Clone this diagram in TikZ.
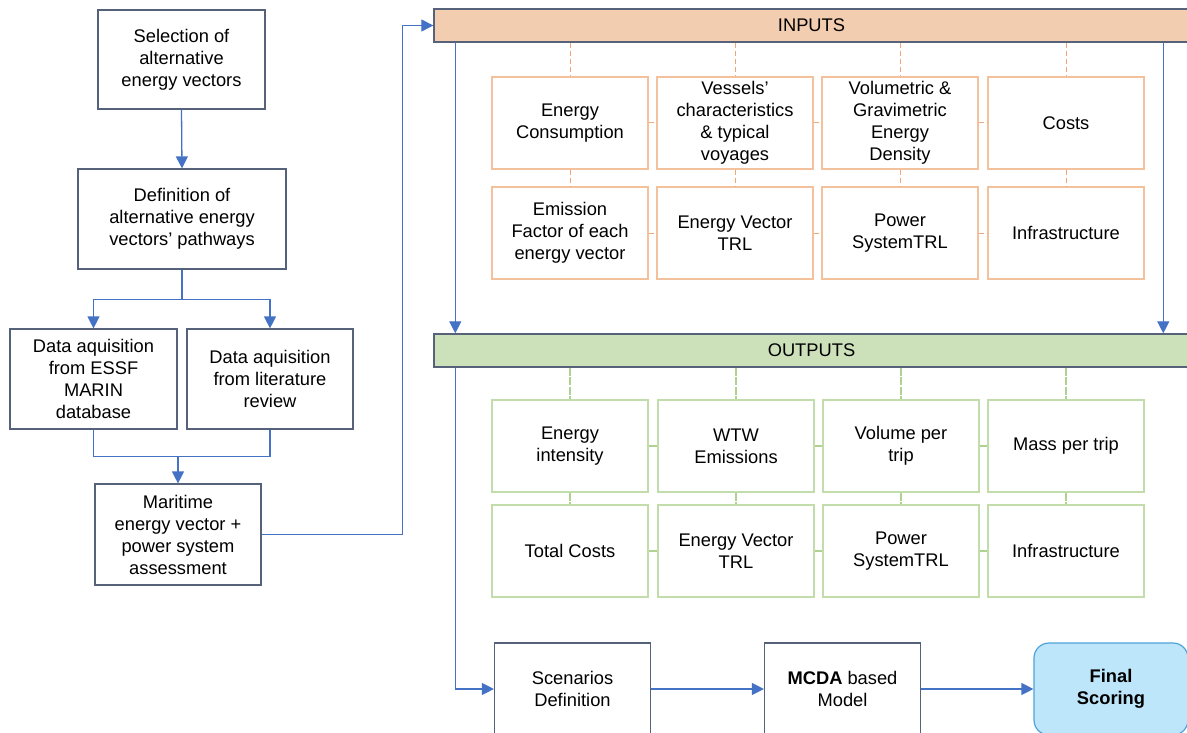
\documentclass[tikz,border=0pt]{standalone}
\usepackage{fontspec}
\setmainfont{Liberation Sans}
\usetikzlibrary{arrows.meta,calc}
\definecolor{flow}{HTML}{4472C4}
\definecolor{slate}{HTML}{56617A}
\definecolor{peach}{HTML}{F2CDAF}
\definecolor{mint}{HTML}{CCE0BA}
\definecolor{obord}{HTML}{F3C19C}
\definecolor{odash}{HTML}{F0A878}
\definecolor{gbord}{HTML}{C2DCAB}
\definecolor{gline}{HTML}{AFD293}
\definecolor{skyfill}{HTML}{BEE6FA}
\definecolor{skybord}{HTML}{4DA3DB}
\begin{document}
\begin{tikzpicture}[x=1pt,y=-1pt,
  txt/.style={font=\fontsize{18.3}{22}\selectfont, align=center, inner sep=0pt},
  lbox/.style={txt, draw=slate, line width=1.2pt, fill=white},
  hdr/.style={txt, draw=slate, line width=1.4pt, minimum width=755, minimum height=33},
  ibox/.style={txt, draw=obord, line width=1.2pt, minimum width=156, minimum height=92},
  obox/.style={txt, draw=gbord, line width=1.2pt, minimum width=156, minimum height=92},
  idash/.style={draw=odash, line width=1pt, dash pattern=on 5pt off 3pt},
  olink/.style={draw=gline, line width=1.1pt, dash pattern=on 8pt off 1.5pt},
  conn/.style={draw=flow, line width=1.3pt},
  arr/.style={conn, -{Triangle[length=12pt,width=12pt]}}
]
\useasboundingbox (0,0) rectangle (1187,733);
\clip (0,0) rectangle (1187,733);
\fill[white] (0,0) rectangle (1187,733);

% left column
\node[lbox, minimum width=167, minimum height=99] (b1) at (181.5,59.5) {Selection of\\alternative\\energy vectors};
\node[lbox, minimum width=208, minimum height=100] (b2) at (182,219) {Definition of\\alternative energy\\vectors’ pathways};
\node[lbox, minimum width=167, minimum height=100] (b3) at (93.5,379) {Data aquisition\\from ESSF\\MARIN\\database};
\node[lbox, minimum width=166, minimum height=100] (b4) at (270,379) {Data aquisition\\from literature\\review};
\node[lbox, minimum width=166, minimum height=101] (b5) at (178,534.5) {Maritime\\energy vector +\\power system\\assessment};

\draw[arr] (b1.south) -- (b2.north);
\draw[arr] (b2.south) -- ++(0,30) -| (b3.north);
\draw[arr] (b2.south) -- ++(0,30) -| (b4.north);
\coordinate (m) at ($(b3.south)+(0,27)$);
\draw[conn] (b3.south) -- (m) -| (b4.south);
\draw[arr] (b5.north |- m) -- (b5.north);

% headers
\node[hdr, fill=peach] (inputs) at (811.5,25.5) {INPUTS};
\node[hdr, fill=mint] (outputs) at (811.5,350.5) {OUTPUTS};

\draw[arr] (b5.east) -| ($(inputs.west)+(-31,0)$) -- (inputs.west);

% input boxes
\node[ibox] (i1) at (570,123) {Energy\\Consumption};
\node[ibox] (i2) at (735,123) {Vessels’\\characteristics\\\& typical\\voyages};
\node[ibox] (i3) at (900,123) {Volumetric \&\\Gravimetric\\Energy\\Density};
\node[ibox] (i4) at (1066,123) {Costs};
\node[ibox] (i5) at (570,233) {Emission\\Factor of each\\energy vector};
\node[ibox] (i6) at (735,233) {Energy Vector\\TRL};
\node[ibox] (i7) at (900,233) {Power\\SystemTRL};
\node[ibox] (i8) at (1066,233) {Infrastructure};

\foreach \t/\b in {i1/i5,i2/i6,i3/i7,i4/i8}{
  \draw[idash] (inputs.south -| \t.north) -- (\t.north);
  \draw[idash] (\t.south) -- (\b.north);
}
\foreach \l/\r in {i1/i2,i2/i3,i3/i4,i5/i6,i6/i7,i7/i8}{
  \draw[idash] (\l.east) -- (\r.west);
}

% output boxes
\node[obox] (o1) at (570,446) {Energy\\intensity};
\node[obox] (o2) at (736,446) {WTW\\Emissions};
\node[obox] (o3) at (901,446) {Volume per\\trip};
\node[obox] (o4) at (1066,446) {Mass per trip};
\node[obox] (o5) at (570,551) {Total Costs};
\node[obox] (o6) at (736,551) {Energy Vector\\TRL};
\node[obox] (o7) at (901,551) {Power\\SystemTRL};
\node[obox] (o8) at (1066,551) {Infrastructure};

\foreach \t/\b in {o1/o5,o2/o6,o3/o7,o4/o8}{
  \draw[olink] (outputs.south -| \t.north) -- (\t.north);
  \draw[olink] (\t.south) -- (\b.north);
}
\foreach \l/\r in {o1/o2,o2/o3,o3/o4,o5/o6,o6/o7,o7/o8}{
  \draw[olink] (\l.east) -- (\r.west);
}

% blue flows between headers
\draw[arr] ($(inputs.south west)+(22,0)$) -- ($(outputs.north west)+(22,0)$);
\draw[arr] ($(inputs.south west)+(730,0)$) -- ($(outputs.north west)+(730,0)$);

% bottom row
\node[lbox, minimum width=156, minimum height=92] (s1) at (572.5,689) {Scenarios\\Definition};
\node[lbox, minimum width=156, minimum height=92] (s2) at (842.5,689) {\textbf{MCDA} based\\Model};
\node[txt, draw=skybord, fill=skyfill, line width=1.2pt, rounded corners=15pt, minimum width=154, minimum height=92] (s3) at (1111,689) {\textbf{Final}\\\textbf{Scoring}};

\draw[arr] ($(outputs.south west)+(22,0)$) |- (s1.west);
\draw[arr] (s1.east) -- (s2.west);
\draw[arr] (s2.east) -- (s3.west);
\end{tikzpicture}
\end{document}
